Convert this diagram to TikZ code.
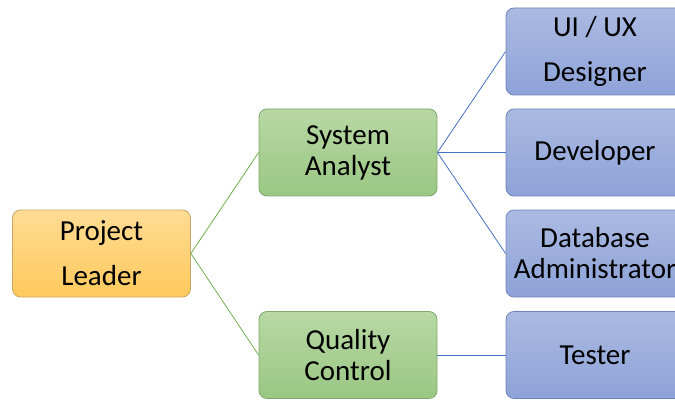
\documentclass[tikz,border=0pt]{standalone}
\usepackage{fontspec}
\setmainfont{Carlito}
\definecolor{orTop}{HTML}{FFDB94}
\definecolor{orBot}{HTML}{FFCA5C}
\definecolor{orLine}{HTML}{C8A764}
\definecolor{grTop}{HTML}{B8D8A4}
\definecolor{grBot}{HTML}{9AC783}
\definecolor{grLine}{HTML}{7FA66B}
\definecolor{blTop}{HTML}{ABBAE2}
\definecolor{blBot}{HTML}{8DA2D8}
\definecolor{blLine}{HTML}{7084BA}
\definecolor{grConn}{HTML}{70AD47}
\definecolor{blConn}{HTML}{4472C4}
\tikzset{
  box/.style={rounded corners=8pt, minimum width=178pt, minimum height=87pt,
    inner sep=0pt, align=center, font=\fontsize{29}{31}\selectfont, line width=0.8pt},
  orbox/.style={box, draw=orLine, top color=orTop, bottom color=orBot},
  grbox/.style={box, draw=grLine, top color=grTop, bottom color=grBot},
  blbox/.style={box, draw=blLine, top color=blTop, bottom color=blBot},
  grc/.style={draw=grConn, line width=0.8pt},
  blc/.style={draw=blConn, line width=0.8pt}
}
\begin{document}
\begin{tikzpicture}[x=1pt,y=-1pt]
\useasboundingbox (0,0) rectangle (675,401);
\clip (0,0) rectangle (675,401);
\node[orbox] (pl) at (101.5,253.5) {Project\\[14pt]Leader};
\node[grbox] (sa) at (348,152.5) {System\\Analyst};
\node[grbox] (qc) at (348,355) {Quality\\Control};
\node[blbox] (ui) at (595,51.5) {UI / UX\\[14pt]Designer};
\node[blbox] (dev) at (595,152.5) {Developer};
\node[blbox] (db) at (595,253.5) {Database\\Administrator};
\node[blbox] (te) at (595,355) {Tester};
\draw[grc] (pl.east) -- (sa.west);
\draw[grc] (pl.east) -- (qc.west);
\draw[blc] (sa.east) -- (ui.west);
\draw[blc] (sa.east) -- (dev.west);
\draw[blc] (sa.east) -- (db.west);
\draw[blc] (qc.east) -- (te.west);
\end{tikzpicture}
\end{document}
